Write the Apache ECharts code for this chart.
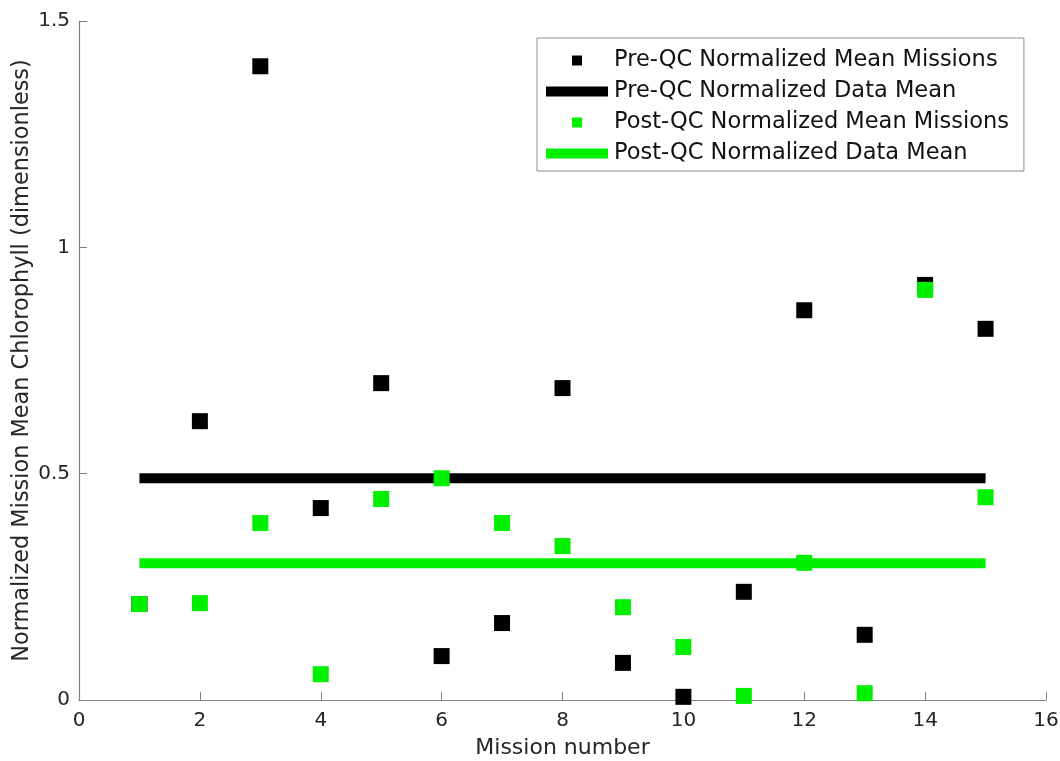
<!DOCTYPE html>
<html>
<head>
<meta charset="utf-8">
<script src="https://cdn.jsdelivr.net/npm/echarts@6/dist/echarts.min.js"></script>
<style>
  html, body { margin: 0; padding: 0; background: #fff; }
  #chart { width: 1060px; height: 761px; }
</style>
</head>
<body>
<div id="chart"></div>
<script>
const missions = [1, 2, 3, 4, 5, 6, 7, 8, 9, 10, 11, 12, 13, 14, 15];
const preQC  = [0.212, 0.616, 1.40, 0.424, 0.70, 0.097, 0.17, 0.689, 0.082, 0.007, 0.239, 0.861, 0.144, 0.917, 0.82];
const postQC = [0.212, 0.214, 0.391, 0.057, 0.444, 0.49, 0.391, 0.34, 0.205, 0.117, 0.009, 0.303, 0.015, 0.906, 0.448];
const preMean = 0.49;
const postMean = 0.302;
const meanSpan = [1, 15];
const seriesNames = [
  'Pre-QC Normalized Mean Missions',
  'Pre-QC Normalized Data Mean',
  'Post-QC Normalized Mean Missions',
  'Post-QC Normalized Data Mean'
];

const GREEN = '#00f000';
const FONT = 'DejaVu Sans, Liberation Sans, Arial, sans-serif';
const pts = (ys) => missions.map((m, i) => [m, ys[i]]);
const span = (v) => meanSpan.map(x => [x, v]);
const sq = 'path://M0,0h10v10h-10z';

const chart = echarts.init(document.getElementById('chart'), null, { renderer: 'canvas' });
chart.setOption({
  animation: false,
  backgroundColor: '#fff',
  textStyle: { fontFamily: FONT },
  grid: { left: 79, right: 14, top: 21, bottom: 61, containLabel: false, outerBoundsMode: 'none' },
  legend: {
    orient: 'vertical',
    left: 537, top: 38,
    backgroundColor: '#fff',
    borderColor: '#8c8c8c', borderWidth: 1,
    padding: [11, 15, 6, 9],
    itemWidth: 62, itemHeight: 10, itemGap: 8,
    symbolKeepAspect: true,
    textStyle: { fontSize: 22.5, color: '#111', fontFamily: FONT, padding: [0, 0, 0, 1] },
    data: [
      { name: seriesNames[0], icon: sq },
      { name: seriesNames[1], icon: 'rect' },
      { name: seriesNames[2], icon: sq },
      { name: seriesNames[3], icon: 'rect' }
    ]
  },
  xAxis: {
    type: 'value', min: 0, max: 16, interval: 2,
    name: 'Mission number', nameLocation: 'middle', nameGap: 37, nameMoveOverlap: false,
    nameTextStyle: { fontSize: 22, color: '#262626', fontFamily: FONT },
    axisLine: { show: true, onZero: false, lineStyle: { color: '#808080', width: 1.2 } },
    axisTick: { show: true, inside: true, length: 8, lineStyle: { color: '#808080' } },
    axisLabel: { fontSize: 20, color: '#262626', margin: 11, fontFamily: FONT },
    splitLine: { show: false }
  },
  yAxis: {
    type: 'value', min: 0, max: 1.5, interval: 0.5,
    name: 'Normalized Mission Mean Chlorophyll (dimensionless)',
    nameLocation: 'middle', nameGap: 46, nameRotate: 90, nameMoveOverlap: false,
    nameTextStyle: { fontSize: 22.4, color: '#262626', fontFamily: FONT },
    axisLine: { show: true, onZero: false, lineStyle: { color: '#808080', width: 1.2 } },
    axisTick: { show: true, inside: true, length: 8, lineStyle: { color: '#808080' } },
    axisLabel: { fontSize: 20, color: '#262626', margin: 9, fontFamily: FONT },
    splitLine: { show: false }
  },
  series: [
    {
      name: seriesNames[0], type: 'scatter', z: 3,
      data: pts(preQC), symbol: 'rect', symbolSize: 16,
      itemStyle: { color: '#000', opacity: 1 }
    },
    {
      name: seriesNames[1], type: 'line', z: 2,
      data: span(preMean), showSymbol: false, symbol: 'none',
      lineStyle: { color: '#000', width: 10, cap: 'butt' },
      itemStyle: { color: '#000' }
    },
    {
      name: seriesNames[2], type: 'scatter', z: 4,
      data: pts(postQC), symbol: 'rect', symbolSize: 16,
      itemStyle: { color: GREEN, opacity: 1 }
    },
    {
      name: seriesNames[3], type: 'line', z: 2,
      data: span(postMean), showSymbol: false, symbol: 'none',
      lineStyle: { color: GREEN, width: 10, cap: 'butt' },
      itemStyle: { color: GREEN }
    }
  ]
});
</script>
</body>
</html>
